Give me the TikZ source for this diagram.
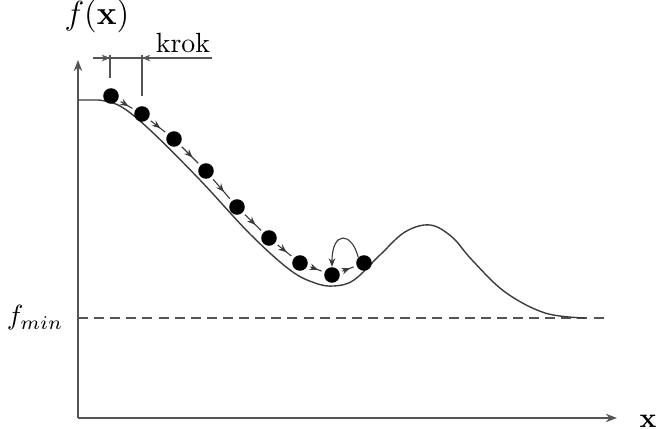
\documentclass[tikz,border=0pt]{standalone}
\usepackage{amsmath}
\usepackage{tikz}
\usetikzlibrary{arrows.meta,calc,decorations.markings}
\definecolor{AxisGray}{HTML}{555555}
\definecolor{CurveGray}{HTML}{3A3A3A}

\begin{document}
\begin{tikzpicture}[x=0.36pt, y=-0.36pt,
  axis/.style={draw=AxisGray, line width=0.6pt, -{Stealth[length=4pt,width=3pt]}},
  ball/.style={circle, fill=black, inner sep=0pt, minimum size=5.6pt},
  stepline/.style={draw=CurveGray, line width=0.4pt, shorten <=1pt, shorten >=1pt,
    postaction={decorate}, decoration={markings,
      mark=at position 0.62 with {\arrow{Stealth[length=3pt,width=2.4pt]}}}},
  lbl/.style={font=\normalsize, inner sep=1pt},
]
\useasboundingbox (0,0) rectangle (658,429);

%% ---- axes ----
\coordinate (o) at (78,418);
\coordinate (ytop) at (78,60);
\coordinate (xend) at (617,418);
\draw[axis] (o) -- (ytop);
\draw[axis] (o) -- (xend);
\node[lbl, font=\large] (fx) at (97,16) {$f(\mathbf{x})$};
\node[lbl] (xl) at (648,421) {$\mathbf{x}$};

%% ---- f_min level ----
\coordinate (fm0) at (78,318);
\coordinate (fm1) at (606,318);
\draw[AxisGray, line width=0.5pt, dash pattern=on 3.6pt off 2.2pt] (fm0) -- (fm1);
\node[lbl] (fmin) at (35,318) {$f_{min}$};

%% ---- function ----
\draw[CurveGray, line width=0.5pt] (78,100) -- (98,100)
  plot[smooth, tension=0.6] coordinates {(98,100) (120,106) (150,130) (200,180)
    (250,234) (290,270) (315,283) (334,286) (354,280) (380,255) (405,232)
    (430,225) (452,237) (472,260) (505,292) (545,313) (585,318)};

%% ---- step length ----
\coordinate (k0) at (93,58);
\coordinate (k1) at (212,58);
\coordinate (t0) at (110,78);
\coordinate (t1) at (142,96);
\draw[AxisGray, line width=0.5pt] (k0) -- (k1);
\draw[AxisGray, line width=0.5pt] (110,55) -- (t0);
\draw[AxisGray, line width=0.5pt] (142,55) -- (t1);
\draw[-{Stealth[length=3pt,width=2.4pt]}, AxisGray] (98,58) -- (110,58);
\draw[-{Stealth[length=3pt,width=2.4pt]}, AxisGray] (158,58) -- (142,58);
\node[lbl, anchor=south] (krok) at (183,56) {krok};

%% ---- iterations ----
\foreach \i/\x/\y in {1/111/96, 2/142/114, 3/174/139, 4/206/171, 5/237/207,
                      6/269/238, 7/300/263, 8/332/275, 9/364/263}
  \node[ball] (d\i) at (\x,\y) {};
\foreach \i/\j in {1/2, 2/3, 3/4, 4/5, 5/6, 6/7, 7/8, 8/9}
  \draw[stepline] (d\i) -- (d\j);
\draw[CurveGray, line width=0.4pt, -{Stealth[length=3pt,width=2.4pt]}]
  (d9.north west) .. controls (352,232) and (332,230) .. (d8.north);
\end{tikzpicture}
\end{document}
